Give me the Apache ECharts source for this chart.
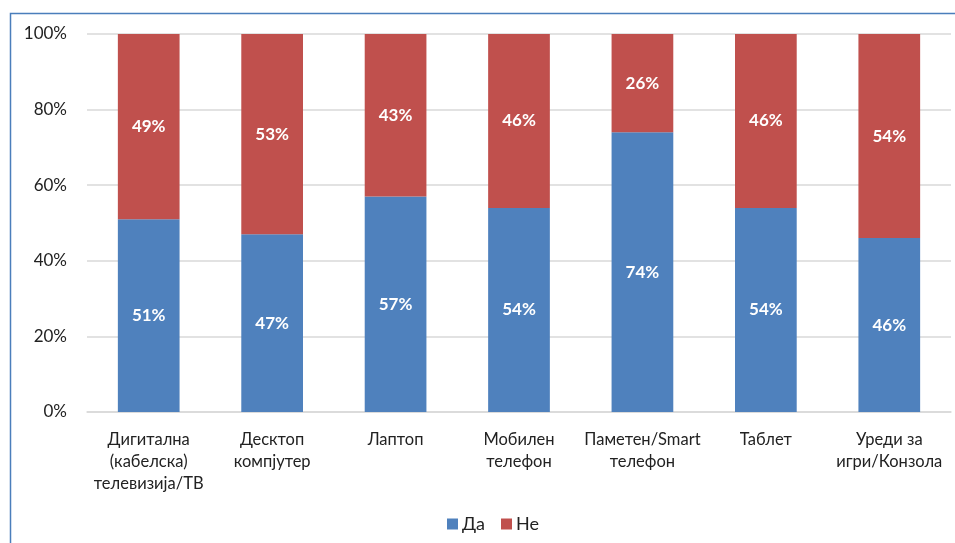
<!DOCTYPE html>
<html>
<head>
<meta charset="utf-8">
<script src="https://cdn.jsdelivr.net/npm/echarts@6/dist/echarts.min.js"></script>
<style>
  html, body { margin: 0; padding: 0; background: #fff; }
  #chart { width: 955px; height: 543px; }
</style>
</head>
<body>
<div id="chart"></div>
<script>
// Device ownership: share answering "yes" / "no" per device type
const categories = [
  'Дигитална\n(кабелска)\nтелевизија/ТВ',
  'Десктоп\nкомпјутер',
  'Лаптоп',
  'Мобилен\nтелефон',
  'Паметен/Smart\nтелефон',
  'Таблет',
  'Уреди за\nигри/Конзола'
];
const seriesNames = ['Да', 'Не'];
const yesValues = [51, 47, 57, 54, 74, 54, 46];
const noValues = [49, 53, 43, 46, 26, 46, 54];
const yTicks = [0, 20, 40, 60, 80, 100];

const FONT = 'Lato, "Open Sans", sans-serif';

const chart = echarts.init(document.getElementById('chart'));

function barSeries(name, values, color) {
  return {
    name: name,
    type: 'bar',
    stack: 'total',
    barWidth: '50%',
    data: values,
    itemStyle: { color: color },
    label: {
      show: true,
      position: 'inside',
      formatter: p => p.value + '%',
      color: '#fff',
      fontFamily: FONT,
      fontWeight: 'bold',
      fontSize: 17
    },
    emphasis: { disabled: true }
  };
}

chart.setOption({
  animation: false,
  graphic: [{
    type: 'rect',
    shape: { x: 10.5, y: 13.5, width: 1000, height: 600 },
    style: { fill: 'none', stroke: '#4a7ebb', lineWidth: 1.5 },
    silent: true
  }],
  grid: { left: 87, right: 4, top: 34, bottom: 131, containLabel: false },
  legend: {
    data: seriesNames,
    left: 442,
    top: 510,
    itemWidth: 11,
    itemHeight: 11,
    itemGap: 16,
    icon: 'rect',
    textStyle: { fontFamily: FONT, fontSize: 18, color: '#222', padding: [0, 0, 0, -1] }
  },
  xAxis: {
    type: 'category',
    data: categories,
    axisLine: { lineStyle: { color: '#d9d9d9', width: 1.5 } },
    axisTick: { show: false },
    axisLabel: {
      color: '#222',
      fontFamily: FONT,
      fontSize: 16.5,
      lineHeight: 22,
      margin: 17,
      interval: 0
    }
  },
  yAxis: {
    type: 'value',
    min: yTicks[0],
    max: yTicks[yTicks.length - 1],
    interval: yTicks[1] - yTicks[0],
    axisLine: { show: false },
    axisTick: { show: false },
    splitLine: { lineStyle: { color: '#d9d9d9', width: 1.5 } },
    axisLabel: {
      color: '#222',
      fontFamily: FONT,
      fontSize: 17,
      margin: 20,
      formatter: v => v + '%'
    }
  },
  series: [
    barSeries(seriesNames[0], yesValues, '#4f81bd'),
    barSeries(seriesNames[1], noValues, '#c0504d')
  ]
});
</script>
</body>
</html>
